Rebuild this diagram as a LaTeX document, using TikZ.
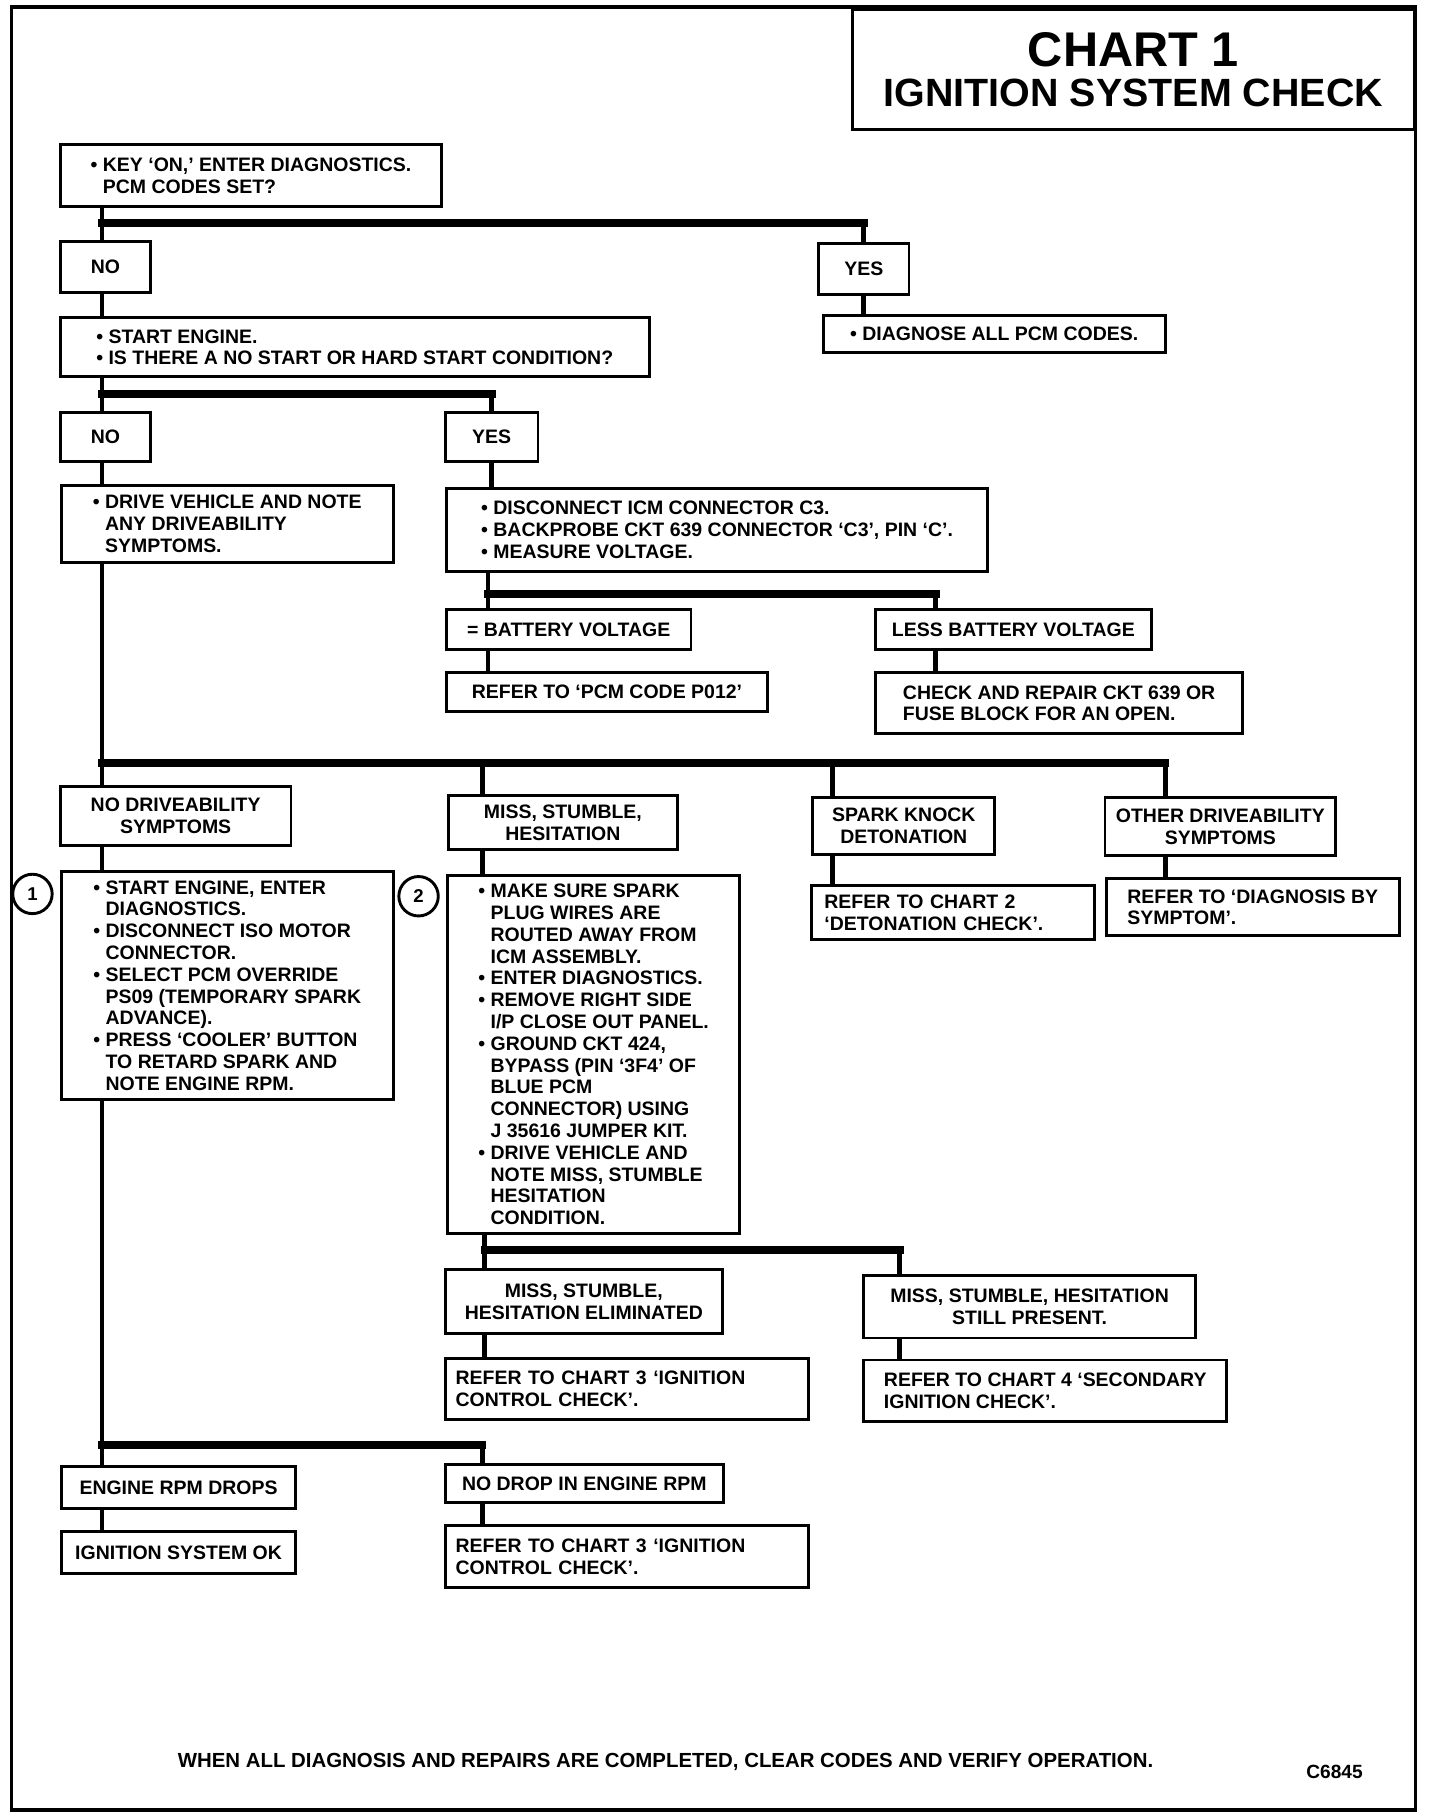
\documentclass[tikz,border=0pt]{standalone}
\usepackage{fontspec}
\setmainfont{Liberation Sans}
\usetikzlibrary{positioning}
\newcommand{\bul}{\textbullet\ }
\newcommand{\bulind}{\hphantom{\textbullet\ }}
\begin{document}
\begin{tikzpicture}[x=1pt,y=-1pt]
      % Node style
      \tikzset{
        chartbox/.style={draw, line width=2.5pt, inner sep=0pt, align=left,
          font=\fontsize{16.8}{18.8}\selectfont\bfseries},
        ctrbox/.style={chartbox, align=center},
        stem/.style={line width=4pt},
        bus/.style={line width=7pt, line cap=rect},
        stepnum/.style={draw, circle, line width=2.5pt, minimum size=34pt, inner sep=0pt,
          font=\fontsize{16}{16}\selectfont\bfseries},
      }
      \useasboundingbox (0,0) rectangle (1242,1568);
      \draw[line width=3pt] (10,6) rectangle (1221,1561);
      % Title
      \node (title) [draw, line width=2.5pt, minimum width=485pt, minimum height=104pt,
        inner sep=0pt, align=center] at (977.5,60)
        {{\fontsize{42}{40}\selectfont\bfseries CHART 1}\\[9pt]
         {\fontsize{34}{34}\selectfont\bfseries IGNITION SYSTEM CHECK}};
      % Nodes
      \node (keyon) [chartbox, minimum width=329pt, minimum height=53pt] at (216.5,151.5)
        {\bul KEY ‘ON,’ ENTER DIAGNOSTICS.\\ \bulind PCM CODES SET?};
      \node (no1) [ctrbox, minimum width=78pt, minimum height=44pt] at (91,230) {NO};
      \node (yes1) [ctrbox, minimum width=78pt, minimum height=44pt] at (745,232) {YES};
      \node (diagall) [chartbox, minimum width=295pt, minimum height=32pt] at (857.5,288)
        {\bul DIAGNOSE ALL PCM CODES.};
      \node (start) [chartbox, minimum width=508pt, minimum height=51pt] at (306,299.5)
        {\bul START ENGINE.\\ \bul IS THERE A NO START OR HARD START CONDITION?};
      \node (no2) [ctrbox, minimum width=78pt, minimum height=42pt] at (91,377) {NO};
      \node (yes2) [ctrbox, minimum width=80pt, minimum height=42pt] at (424,377) {YES};
      \node (drive) [chartbox, minimum width=286pt, minimum height=66pt] at (196,452)
        {\bul DRIVE VEHICLE AND NOTE\\ \bulind ANY DRIVEABILITY\\ \bulind SYMPTOMS.};
      \node (discon) [chartbox, minimum width=467pt, minimum height=72pt] at (618.5,457)
        {\bul DISCONNECT ICM CONNECTOR C3.\\
         \bul BACKPROBE CKT 639 CONNECTOR ‘C3’, PIN ‘C’.\\
         \bul MEASURE VOLTAGE.};
      \node (eqbatt) [chartbox, minimum width=211pt, minimum height=34pt] at (490.5,543)
        {= BATTERY VOLTAGE};
      \node (lessbatt) [chartbox, minimum width=238pt, minimum height=34pt] at (874,543)
        {LESS BATTERY VOLTAGE};
      \node (p012) [chartbox, minimum width=277pt, minimum height=34pt] at (523.5,597)
        {REFER TO ‘PCM CODE P012’};
      \node (repair) [chartbox, minimum width=317pt, minimum height=53pt] at (913.5,606.5)
        {CHECK AND REPAIR CKT 639 OR\\ FUSE BLOCK FOR AN OPEN.};
      \node (nodrive) [ctrbox, minimum width=199pt, minimum height=51pt] at (151.5,703.5)
        {NO DRIVEABILITY\\ SYMPTOMS};
      \node (miss) [ctrbox, minimum width=197pt, minimum height=47pt] at (485.5,709.5)
        {MISS, STUMBLE,\\ HESITATION};
      \node (knock) [ctrbox, minimum width=157pt, minimum height=49pt] at (779.5,712.5)
        {SPARK KNOCK\\ DETONATION};
      \node (other) [ctrbox, minimum width=199pt, minimum height=50pt] at (1052.5,713)
        {OTHER DRIVEABILITY\\ SYMPTOMS};
      \node (steps1) [chartbox, minimum width=286pt, minimum height=196pt] at (196,850)
        {\bul START ENGINE, ENTER\\ \bulind DIAGNOSTICS.\\
         \bul DISCONNECT ISO MOTOR\\ \bulind CONNECTOR.\\
         \bul SELECT PCM OVERRIDE\\ \bulind PS09 (TEMPORARY SPARK\\ \bulind ADVANCE).\\
         \bul PRESS ‘COOLER’ BUTTON\\ \bulind TO RETARD SPARK AND\\ \bulind NOTE ENGINE RPM.};
      \node (num1) [stepnum] at (28,771) {1};
      \node (steps2) [chartbox, minimum width=252pt, minimum height=309pt] at (512,909.5)
        {\bul MAKE SURE SPARK\\ \bulind PLUG WIRES ARE\\ \bulind ROUTED AWAY FROM\\
         \bulind ICM ASSEMBLY.\\
         \bul ENTER DIAGNOSTICS.\\
         \bul REMOVE RIGHT SIDE\\ \bulind I/P CLOSE OUT PANEL.\\
         \bul GROUND CKT 424,\\ \bulind BYPASS (PIN ‘3F4’ OF\\ \bulind BLUE PCM\\
         \bulind CONNECTOR) USING\\ \bulind J 35616 JUMPER KIT.\\
         \bul DRIVE VEHICLE AND\\ \bulind NOTE MISS, STUMBLE\\ \bulind HESITATION\\
         \bulind CONDITION.};
      \node (num2) [stepnum] at (361,773) {2};
      \node (chart2) [chartbox, minimum width=244pt, minimum height=46pt, text width=222pt]
        at (822,787) {REFER TO CHART 2\\ ‘DETONATION CHECK’.};
      \node (bysym) [chartbox, minimum width=253pt, minimum height=49pt] at (1080.5,782.5)
        {REFER TO ‘DIAGNOSIS BY\\ SYMPTOM’.};
      \node (elim) [ctrbox, minimum width=239pt, minimum height=55pt] at (503.5,1122.5)
        {MISS, STUMBLE,\\ HESITATION ELIMINATED};
      \node (still) [ctrbox, minimum width=286pt, minimum height=54pt] at (888,1127)
        {MISS, STUMBLE, HESITATION\\ STILL PRESENT.};
      \node (chart3a) [chartbox, minimum width=313pt, minimum height=52pt, text width=295pt]
        at (540.5,1198) {REFER TO CHART 3 ‘IGNITION\\ CONTROL CHECK’.};
      \node (chart4) [chartbox, minimum width=313pt, minimum height=53pt] at (901.5,1199.5)
        {REFER TO CHART 4 ‘SECONDARY\\ IGNITION CHECK’.};
      \node (rpmdrop) [chartbox, minimum width=202pt, minimum height=36pt] at (154,1283)
        {ENGINE RPM DROPS};
      \node (nodrop) [chartbox, minimum width=240pt, minimum height=33pt] at (504,1279.5)
        {NO DROP IN ENGINE RPM};
      \node (ignok) [chartbox, minimum width=202pt, minimum height=36pt] at (154,1339)
        {IGNITION SYSTEM OK};
      \node (chart3b) [chartbox, minimum width=313pt, minimum height=53pt, text width=295pt]
        at (540.5,1342.5) {REFER TO CHART 3 ‘IGNITION\\ CONTROL CHECK’.};
      \node (footer) [font=\fontsize{17.6}{17.6}\selectfont\bfseries] at (574,1520)
        {WHEN ALL DIAGNOSIS AND REPAIRS ARE COMPLETED, CLEAR CODES AND VERIFY OPERATION.};
      \node (figno) [font=\fontsize{16.5}{16.5}\selectfont\bfseries] at (1151,1528) {C6845};
      % Junctions
      \coordinate (j1) at (88,192);
      \coordinate (j2) at (88,340);
      \coordinate (j3) at (421,512);
      \coordinate (k3) at (807,512);
      \coordinate (j4) at (88,658);
      \coordinate (m1) at (416,658);
      \coordinate (m2) at (718,658);
      \coordinate (m3) at (1005,658);
      \coordinate (j5) at (418,1078);
      \coordinate (k5) at (776,1078);
      \coordinate (j6) at (88,1246);
      \coordinate (k6) at (416,1246);
      % Connectors
      \draw[stem] (keyon.south -| j1) -- (no1.north -| j1);
      \draw[bus] (j1) -- (j1 -| yes1);
      \draw[stem] (j1 -| yes1) -- (yes1.north);
      \draw[stem] (yes1.south) -- (diagall.north -| yes1);
      \draw[stem] (no1.south -| j1) -- (start.north -| j1);
      \draw[stem] (start.south -| j2) -- (no2.north -| j2);
      \draw[bus] (j2) -- (j2 -| yes2);
      \draw[stem] (j2 -| yes2) -- (yes2.north);
      \draw[stem] (no2.south -| j2) -- (drive.north -| j2);
      \draw[stem] (yes2.south) -- (discon.north -| yes2);
      \draw[stem] (discon.south -| j3) -- (eqbatt.north -| j3);
      \draw[bus] (j3) -- (k3);
      \draw[stem] (k3) -- (lessbatt.north -| k3);
      \draw[stem] (eqbatt.south -| j3) -- (p012.north -| j3);
      \draw[stem] (lessbatt.south -| k3) -- (repair.north -| k3);
      \draw[stem] (drive.south -| j4) -- (nodrive.north -| j4);
      \draw[bus] (j4) -- (m3);
      \draw[stem] (m1) -- (miss.north -| m1);
      \draw[stem] (m2) -- (knock.north -| m2);
      \draw[stem] (m3) -- (other.north -| m3);
      \draw[stem] (nodrive.south -| j4) -- (steps1.north -| j4);
      \draw[stem] (miss.south -| m1) -- (steps2.north -| m1);
      \draw[stem] (knock.south -| m2) -- (chart2.north -| m2);
      \draw[stem] (other.south -| m3) -- (bysym.north -| m3);
      \draw[stem] (steps2.south -| j5) -- (elim.north -| j5);
      \draw[bus] (j5) -- (k5);
      \draw[stem] (k5) -- (still.north -| k5);
      \draw[stem] (elim.south -| j5) -- (chart3a.north -| j5);
      \draw[stem] (still.south -| k5) -- (chart4.north -| k5);
      \draw[stem] (steps1.south -| j6) -- (rpmdrop.north -| j6);
      \draw[bus] (j6) -- (k6);
      \draw[stem] (k6) -- (nodrop.north -| k6);
      \draw[stem] (rpmdrop.south -| j6) -- (ignok.north -| j6);
      \draw[stem] (nodrop.south -| k6) -- (chart3b.north -| k6);
    \end{tikzpicture}
\end{document}
